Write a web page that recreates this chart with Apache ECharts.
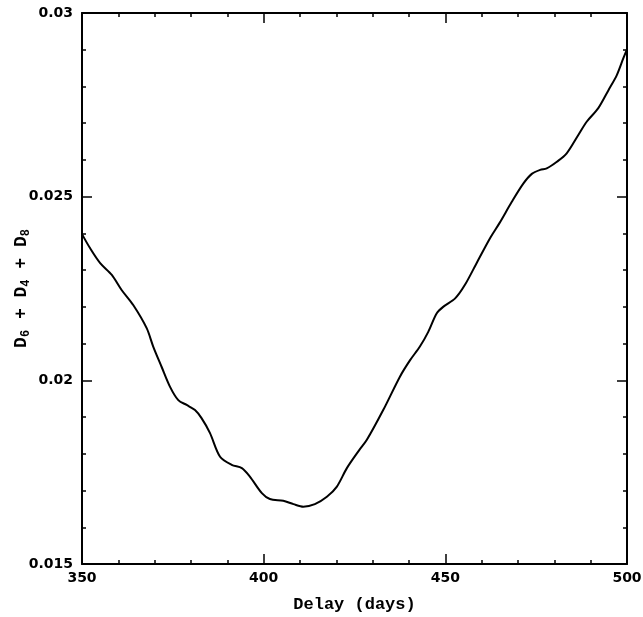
<!DOCTYPE html>
<html>
<head>
<meta charset="utf-8">
<script src="https://cdn.jsdelivr.net/npm/echarts@6/dist/echarts.min.js"></script>
<style>
  html, body { margin: 0; padding: 0; background: #fff; }
  #chart { width: 643px; height: 617px; }
</style>
</head>
<body>
<div id="chart"></div>
<script>
// Dispersion sum as a function of trial delay
const delays = [350.0, 352.2, 355.0, 358.2, 360.9, 364.1, 367.8, 369.6, 371.9, 374.2,
  376.5, 378.8, 381.1, 382.9, 385.2, 388.0, 391.2, 394.0, 396.2, 399.5,
  401.7, 405.4, 408.2, 410.9, 414.1, 417.4, 420.1, 422.9, 426.3, 428.4,
  432.9, 437.5, 440.3, 443.0, 445.3, 447.6, 449.4, 452.7, 455.4, 458.6,
  462.3, 464.9, 468.3, 471.5, 473.8, 476.1, 477.9, 480.7, 483.4, 486.6,
  488.9, 492.1, 494.9, 497.2, 499.0, 500.0];
const dispersion = [0.02398, 0.02360, 0.02319, 0.02287, 0.02246, 0.02205, 0.02142, 0.02092, 0.02037, 0.01983,
  0.01946, 0.01933, 0.01919, 0.01897, 0.01857, 0.01792, 0.01770, 0.01761, 0.01738, 0.01693,
  0.01677, 0.01672, 0.01663, 0.01656, 0.01663, 0.01683, 0.01710, 0.01761, 0.01810, 0.01838,
  0.01919, 0.02010, 0.02055, 0.02092, 0.02132, 0.02182, 0.02200, 0.02223, 0.02260, 0.02319,
  0.02387, 0.02428, 0.02486, 0.02536, 0.02562, 0.02573, 0.02577, 0.02595, 0.02618, 0.02668,
  0.02704, 0.02741, 0.02790, 0.02831, 0.02877, 0.02901];

const xTicks = { min: 350, max: 500, interval: 50 };
const yTicks = { min: 0.015, max: 0.03, interval: 0.005 };

const xLabelText = 'Delay (days)';
const yLabelText = 'D{s|6} + D{s|4} + D{s|8}';

const chart = echarts.init(document.getElementById('chart'), null, { renderer: 'canvas' });

const tickFont = { fontFamily: 'DejaVu Sans', fontWeight: 'bold', fontSize: 14, color: '#000' };
const lineStyle = { color: '#000', width: 2 };

function xAx(pos, labelled) {
  return {
    type: 'value', position: pos, min: xTicks.min, max: xTicks.max, interval: xTicks.interval,
    axisLine: { show: true, lineStyle: lineStyle },
    axisTick: { show: true, inside: true, length: 10, lineStyle: { color: '#000', width: 1.5 } },
    minorTick: { show: true, splitNumber: 5, length: 4, lineStyle: { color: '#000', width: 1.5 } },
    splitLine: { show: false },
    axisLabel: Object.assign({ show: labelled, margin: 7 }, tickFont),
    name: labelled ? xLabelText : '',
    nameLocation: 'middle', nameGap: 32, nameMoveOverlap: false,
    nameTextStyle: { fontFamily: 'Liberation Mono', fontWeight: 'bold', fontSize: 17, color: '#000' }
  };
}

function yAx(pos, labelled) {
  return {
    type: 'value', position: pos, min: yTicks.min, max: yTicks.max, interval: yTicks.interval,
    axisLine: { show: true, lineStyle: lineStyle },
    axisTick: { show: true, inside: true, length: 10, lineStyle: { color: '#000', width: 1.5 } },
    minorTick: { show: true, splitNumber: 5, length: 4, lineStyle: { color: '#000', width: 1.5 } },
    splitLine: { show: false },
    axisLabel: Object.assign({ show: labelled, margin: 9, formatter: v => String(+v.toFixed(3)) }, tickFont),
    name: labelled ? yLabelText : '',
    nameLocation: 'middle', nameGap: 50, nameRotate: 90, nameMoveOverlap: false,
    nameTextStyle: {
      fontFamily: 'Liberation Mono', fontWeight: 'bold', fontSize: 18, color: '#000',
      rich: { s: { fontFamily: 'Liberation Mono', fontWeight: 'bold', fontSize: 12, color: '#000', verticalAlign: 'bottom', padding: [10, 0, 0, 0] } }
    }
  };
}

chart.setOption({
  animation: false,
  backgroundColor: '#fff',
  grid: { left: 82, right: 16, top: 13, bottom: 53, outerBoundsMode: 'none', containLabel: false },
  xAxis: [xAx('bottom', true), xAx('top', false)],
  yAxis: [yAx('left', true), yAx('right', false)],
  series: [{
    type: 'line',
    xAxisIndex: 0, yAxisIndex: 0,
    data: delays.map((d, i) => [d, dispersion[i]]),
    smooth: 0.3,
    showSymbol: false,
    lineStyle: { color: '#000', width: 2 }
  }]
});
</script>
</body>
</html>
